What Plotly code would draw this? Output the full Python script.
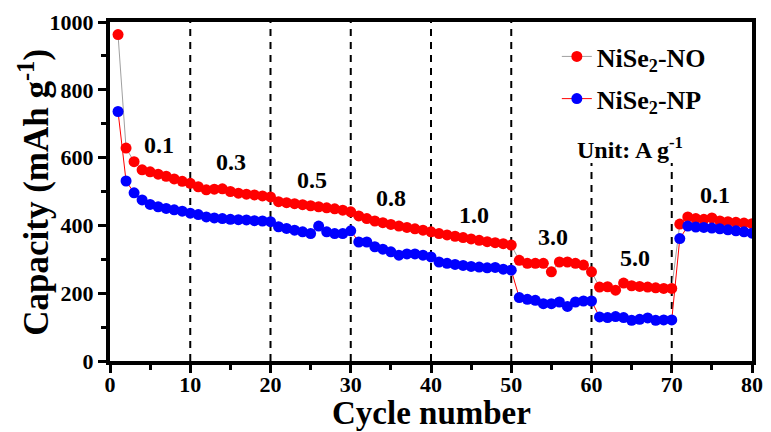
import plotly.graph_objects as go

cycles = list(range(1, 81))

no_capacity = [
    963, 628, 588, 564, 558, 551, 545, 537, 530, 524,
    514, 505, 507, 508, 500, 495, 492, 490, 487, 484,
    470, 467, 464, 461, 458, 455, 452, 449, 445, 440,
    428, 420, 413, 408, 403, 398, 394, 390, 386, 381,
    376, 372, 368, 364, 360, 356, 352, 349, 346, 342,
    297, 288, 288, 288, 263, 292, 292, 288, 283, 263,
    218, 219, 209, 230, 222, 220, 218, 216, 214, 214,
    404, 425, 420, 418, 422, 413, 411, 409, 407, 405,
]

np_capacity = [
    736, 531, 496, 475, 462, 455, 450, 446, 442, 436,
    432, 425, 422, 420, 418, 417, 416, 414, 413, 411,
    396, 391, 386, 381, 376, 398, 381, 376, 376, 384,
    351, 351, 337, 330, 322, 312, 316, 316, 312, 307,
    292, 288, 285, 282, 279, 277, 275, 276, 271, 268,
    187, 182, 179, 169, 169, 174, 161, 174, 177, 177,
    130, 128, 131, 128, 120, 123, 127, 120, 121, 121,
    361, 398, 395, 394, 392, 390, 387, 384, 381, 377,
]

series_names = ["NiSe<sub>2</sub>-NO", "NiSe<sub>2</sub>-NP"]

rate_labels = ["0.1", "0.3", "0.5", "0.8", "1.0", "3.0", "5.0", "0.1"]
rate_label_x = [6.1, 15.1, 25.2, 35.0, 45.4, 55.2, 65.4, 75.4]
rate_label_y = [637, 588, 534, 480, 430, 366, 303, 489]

divider_x = [10, 20, 30, 40, 50, 60, 70]
divider_top = [1000, 1000, 1000, 1000, 1000, 584, 584]

FONT = "Liberation Serif"

fig = go.Figure()
fig.add_trace(go.Scatter(
    x=cycles, y=no_capacity, mode="lines+markers", name=series_names[0],
    line=dict(color="#a0a0a0", width=1),
    marker=dict(color="#ff0000", size=11),
    legend="legend",
))
fig.add_trace(go.Scatter(
    x=cycles, y=np_capacity, mode="lines+markers", name=series_names[1],
    line=dict(color="#ff0000", width=1),
    marker=dict(color="#0000ff", size=11),
    legend="legend2",
))

for xv, top in zip(divider_x, divider_top):
    fig.add_shape(type="line", xref="x", yref="y", x0=xv, x1=xv, y0=0, y1=top,
                  line=dict(color="black", width=2, dash="7px,6px"), layer="below")

for t, xv, yv in zip(rate_labels, rate_label_x, rate_label_y):
    fig.add_annotation(x=xv, y=yv, text=t, showarrow=False,
                       font=dict(family=FONT, size=24, color="black", weight="bold"))

fig.add_annotation(x=64.8, y=628, text="Unit: A g<sup>-1</sup>", showarrow=False,
                   font=dict(family=FONT, size=24, color="black", weight="bold"))

# axis titles placed explicitly
fig.add_annotation(xref="paper", yref="paper", x=0.5, y=-0.152, xanchor="center",
                   yanchor="middle", text="Cycle number", showarrow=False,
                   font=dict(family=FONT, size=33, color="black", weight="bold"))
fig.add_annotation(xref="paper", yref="paper", x=-0.118, y=0.497, xanchor="center",
                   yanchor="middle", text="Capacity (mAh g<sup>-1</sup>)", textangle=-90,
                   showarrow=False,
                   font=dict(family=FONT, size=35, color="black", weight="bold"))

axis_common = dict(
    showline=True, linecolor="black", linewidth=4, mirror=True,
    showgrid=False, zeroline=False, automargin=False,
    ticks="outside", ticklen=8, tickwidth=3, tickcolor="black",
    tickfont=dict(family=FONT, size=22, color="black", weight="bold"),
)

fig.update_xaxes(
    range=[0, 80], dtick=10, tick0=0, ticklabelstandoff=-7,
    minor=dict(ticks="outside", ticklen=5, tickwidth=3, dtick=5, tickcolor="black"),
    **axis_common,
)
fig.update_yaxes(
    range=[0, 1000], dtick=200, tick0=0,
    minor=dict(ticks="outside", ticklen=5, tickwidth=3, dtick=100, tickcolor="black"),
    **axis_common,
)

legend_common = dict(
    xanchor="left", yanchor="top",
    bgcolor="rgba(0,0,0,0)", borderwidth=0,
    font=dict(family=FONT, size=26, color="black", weight="bold"),
    itemwidth=30,
)

fig.update_layout(
    width=763, height=424,
    margin=dict(l=102, r=19, t=14, b=71),
    paper_bgcolor="white", plot_bgcolor="white",
    showlegend=True,
    legend=dict(x=0.696, y=0.9675, **legend_common),
    legend2=dict(x=0.696, y=0.843, **legend_common),
)

fig.write_html("out.html")
